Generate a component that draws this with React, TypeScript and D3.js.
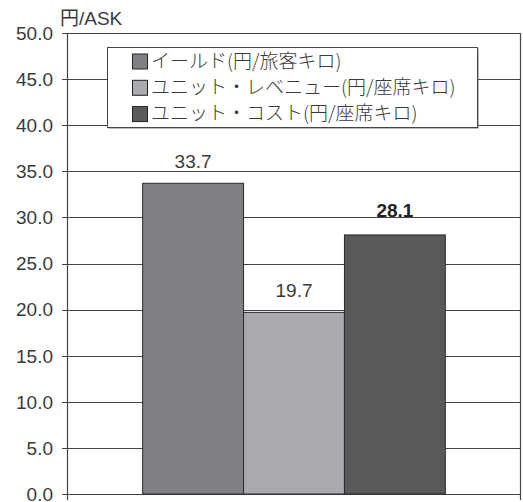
import React from "react";
import * as d3 from "d3";

// Unit revenue / cost comparison, yen per ASK
const categories = ["FY"];
const seriesNames = [
  "イールド(円/旅客キロ)",
  "ユニット・レベニュー(円/座席キロ)",
  "ユニット・コスト(円/座席キロ)",
];
const seriesValues = [33.7, 19.7, 28.1];
const seriesColors = ["#808185", "#a9aaad", "#58595b"];
const boldLabel = [false, false, true];
const yTicks = [0, 5, 10, 15, 20, 25, 30, 35, 40, 45, 50];
const yTitle = "円/ASK";

const W = 523;
const H = 502;
const margin = { top: 33, right: 2, bottom: 8, left: 67 };

const numFont = "'Liberation Sans', Arial, 'Noto Sans CJK JP', sans-serif";
const jpFont = "'Noto Sans CJK JP', 'Liberation Sans', sans-serif";

export default function App() {
  const plotL = margin.left;
  const plotR = W - margin.right;
  const plotT = margin.top;
  const plotB = H - margin.bottom;

  const y = d3.scaleLinear().domain([0, 50]).range([plotB, plotT]);
  const x0 = d3
    .scaleBand<string>()
    .domain(categories)
    .range([plotL, plotR])
    .paddingInner(0)
    .paddingOuter(0.25);
  const x1 = d3
    .scaleBand<string>()
    .domain(seriesNames)
    .range([0, x0.bandwidth()])
    .padding(0);

  const gridColor = "#444";
  const legend = { x: 107, y: 47, w: 370, h: 80 };
  const rowH = 26.3;

  return (
    <svg
      width={W}
      height={H}
      style={{ position: "absolute", left: 0, top: 0, background: "#fff" }}
    >
      {/* gridlines */}
      {yTicks.map((t) => (
        <line
          key={"g" + t}
          x1={plotL - 5}
          x2={plotR}
          y1={Math.round(y(t)) + 0.5}
          y2={Math.round(y(t)) + 0.5}
          stroke={gridColor}
          strokeWidth={1.1}
        />
      ))}
      {/* tick labels */}
      {yTicks.map((t) => (
        <text
          key={"t" + t}
          x={plotL - 14}
          y={y(t)}
          dy="0.36em"
          textAnchor="end"
          fontFamily={numFont}
          fontSize={19}
          fill="#3a3a3a"
        >
          {t.toFixed(1)}
        </text>
      ))}
      {/* axes frame */}
      <line x1={plotL + 0.5} x2={plotL + 0.5} y1={plotT} y2={plotB + 6} stroke={gridColor} strokeWidth={1.2} />
      <line x1={plotR - 0.5} x2={plotR - 0.5} y1={plotT} y2={plotB + 6} stroke={gridColor} strokeWidth={1.2} />

      {/* bars */}
      {categories.map((c) => (
        <g key={c} transform={`translate(${x0(c)},0)`}>
          {seriesNames.map((s, i) => (
            <rect
              key={s}
              x={x1(s)}
              y={y(seriesValues[i])}
              width={x1.bandwidth()}
              height={y(0) - y(seriesValues[i])}
              fill={seriesColors[i]}
              stroke="#2a2a2a"
              strokeWidth={1}
            />
          ))}
          {seriesNames.map((s, i) => (
            <text
              key={"v" + s}
              x={(x1(s) ?? 0) + x1.bandwidth() / 2}
              y={y(seriesValues[i]) - (boldLabel[i] ? 18 : 15)}
              textAnchor="middle"
              fontFamily={numFont}
              fontSize={19}
              fontWeight={boldLabel[i] ? "bold" : "normal"}
              fill={boldLabel[i] ? "#222" : "#3a3a3a"}
            >
              {seriesValues[i].toFixed(1)}
            </text>
          ))}
        </g>
      ))}

      {/* y axis title */}
      <text x={60} y={25} fontFamily={numFont} fontSize={19} fill="#3a3a3a">
        {yTitle}
      </text>

      {/* legend */}
      <rect x={legend.x + 1.5} y={legend.y + 1.5} width={legend.w} height={legend.h} fill="#777" />
      <rect
        x={legend.x + 0.5}
        y={legend.y + 0.5}
        width={legend.w}
        height={legend.h}
        fill="#fff"
        stroke="#444"
        strokeWidth={1}
      />
      {seriesNames.map((s, i) => {
        const cy = legend.y + 14 + i * rowH;
        return (
          <g key={"l" + s}>
            <rect
              x={132.5}
              y={cy - 7}
              width={15}
              height={15}
              fill={seriesColors[i]}
              stroke="#222"
              strokeWidth={1}
            />
            <text
              x={151}
              y={cy}
              dy="0.36em"
              fontFamily={jpFont}
              fontSize={19}
              fontWeight={300}
              fill="#3a3a3a"
            >
              {s}
            </text>
          </g>
        );
      })}
    </svg>
  );
}
